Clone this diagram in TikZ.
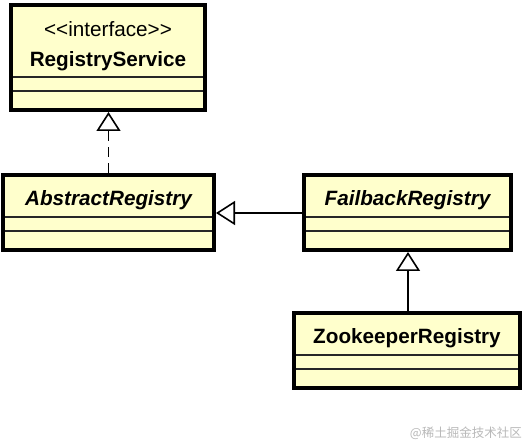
\documentclass[tikz,border=0pt]{standalone}
\usepackage{fontspec}
\setmainfont{Liberation Sans}
\newfontfamily\cjkfont{Noto Sans CJK SC}
\usetikzlibrary{arrows.meta}
\usepackage{xcolor}
\definecolor{classfill}{RGB}{255,255,204}

\begin{document}
\begin{tikzpicture}[
    x=1pt, y=-1pt,
    classbox/.style={rectangle, draw=black, fill=classfill, line width=4pt, inner sep=0pt},
    smallclass/.style={classbox, minimum height=75},
    classname/.style={font=\fontsize{20.7}{24}\selectfont\bfseries, anchor=base, inner sep=0pt},
    abstractname/.style={classname, font=\fontsize{20.7}{24}\selectfont\bfseries\itshape},
    stereotype/.style={font=\fontsize{20.7}{24}\selectfont, anchor=base, inner sep=0pt},
    divider/.style={draw=black!85, line width=1.3pt},
    inherit/.style={-{Triangle[open, length=19pt, width=24pt]}, line width=1.6pt},
    realize/.style={inherit, dash pattern=on 10pt off 6pt}
]
\useasboundingbox (0,0) rectangle (525,443);

% Interface
\node[classbox, minimum width=194, minimum height=105] (service) at (108,57.5) {};
\node[stereotype] (servicestereo) at (108,37) {<{}<interface>{}>};
\node[classname] (servicename) at (108,67) {RegistryService};

% Classes
\node[smallclass, minimum width=211] (abstract) at (108.5,212.5) {};
\node[abstractname] (abstractname) at (108.5,206) {AbstractRegistry};

\node[smallclass, minimum width=207] (failback) at (407.5,212.5) {};
\node[abstractname] (failbackname) at (407.5,206) {FailbackRegistry};

\node[smallclass, minimum width=226] (zookeeper) at (407,350.5) {};
\node[classname] (zookeepername) at (407,344) {ZookeeperRegistry};

% Compartments
\draw[divider] ([yshift=-19.5]service.west) -- ([yshift=-19.5]service.east);
\draw[divider] ([yshift=-33.5]service.west) -- ([yshift=-33.5]service.east);
\foreach \cls in {abstract, failback, zookeeper} {
    \draw[divider] ([yshift=-4.5]\cls.west) -- ([yshift=-4.5]\cls.east);
    \draw[divider] ([yshift=-18.5]\cls.west) -- ([yshift=-18.5]\cls.east);
}
\foreach \cls in {service, abstract, failback, zookeeper}
    \draw[line width=4pt] (\cls.north west) ++(2pt,-2pt) rectangle ([shift={(-2pt,2pt)}]\cls.south east);

% Arrows
\draw[realize] (abstract.north) -- (abstract.north |- service.south);
\draw[inherit] (failback.west |- 0,213) -- (abstract.east |- 0,213);
\draw[inherit] (zookeeper.north -| 408,0) -- (failback.south -| 408,0);

% Watermark
\node[font=\cjkfont\fontsize{12.5}{14}\selectfont, text=black!28, anchor=base east, inner sep=0pt] (mark) at (522,438) {@稀土掘金技术社区};

\end{tikzpicture}
\end{document}
